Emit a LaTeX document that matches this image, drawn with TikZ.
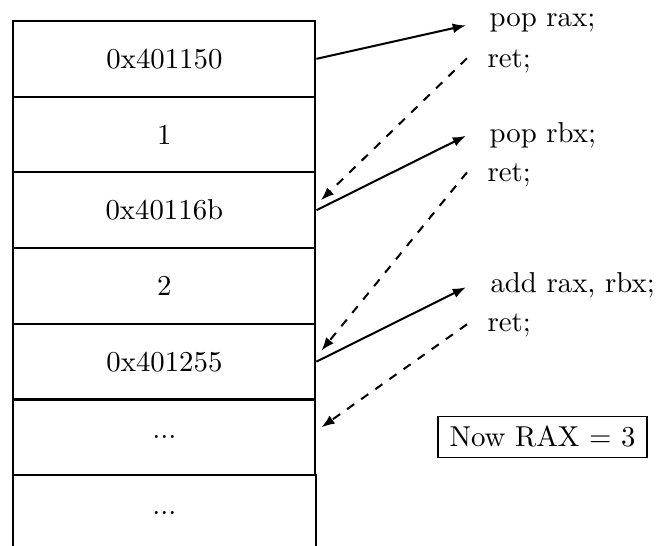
\documentclass[tikz,border=0pt]{standalone}
\usetikzlibrary{calc,arrows.meta}

\begin{document}
\begin{tikzpicture}[
    x=0.3472pt, y=-0.3472pt,
    cell/.style={draw, line width=0.7pt, minimum width=104.86pt,
                 minimum height=26.28pt, inner sep=0pt},
    opencell/.style={minimum width=104.86pt, minimum height=26.28pt, inner sep=0pt},
    instr/.style={anchor=base west, inner sep=0pt},
    callarr/.style={line width=0.7pt, -{Latex[length=4.6pt,width=3.4pt]}},
    retarr/.style={line width=0.7pt, dashed, -{Latex[length=4.6pt,width=3.4pt]}},
    note/.style={draw, line width=0.4pt, inner xsep=4pt, inner ysep=3.5pt}
  ]
  \useasboundingbox (0,0) rectangle (657,546);

  % stack slots
  \node[cell] (r1) at (164.4, 58.85) {0x401150};
  \node[cell] (r2) at (164.4,134.55) {1};
  \node[cell] (r3) at (164.4,210.25) {0x40116b};
  \node[cell] (r4) at (164.4,285.95) {2};
  \node[cell] (r5) at (164.4,361.65) {0x401255};
  \node[cell] (r6) at (164.4,437.35) {...};
  \node[opencell] (r7) at (164.4,513.05) {...};
  % last slot stays open at the bottom
  \coordinate (b1) at (r7.west |- 0,546);
  \coordinate (b2) at (r7.east |- 0,546);
  \draw[line width=0.7pt] (b1) -- (r7.north west) -- (r7.north east) -- (b2);

  % gadgets
  \node[instr] (i1) at (489, 27) {pop rax;};
  \node[instr] (t1) at (487, 68) {ret;};
  \node[instr] (i2) at (489,143) {pop rbx;};
  \node[instr] (t2) at (487,182) {ret;};
  \node[instr] (i3) at (490,293) {add rax, rbx;};
  \node[instr] (t3) at (487,332) {ret;};

  \node[note] (n) at (542.5,437) {Now RAX $=$ 3};

  % control flow
  \draw[callarr] (r1.east) -- ($(i1.west)+(-23,2)$);
  \draw[retarr]  ($(t1.west)+(-20,-3.6)$) -- ($(r3.east)+(4.5,-10)$);
  \draw[callarr] (r3.east) -- ($(i2.west)+(-23,0)$);
  \draw[retarr]  ($(t2.west)+(-20,-3.6)$) -- ($(r5.east)+(5,-11)$);
  \draw[callarr] (r5.east) -- ($(i3.west)+(-24,1.5)$);
  \draw[retarr]  ($(t3.west)+(-20,-1.6)$) -- ($(r6.east)+(5,-10)$);
\end{tikzpicture}
\end{document}
